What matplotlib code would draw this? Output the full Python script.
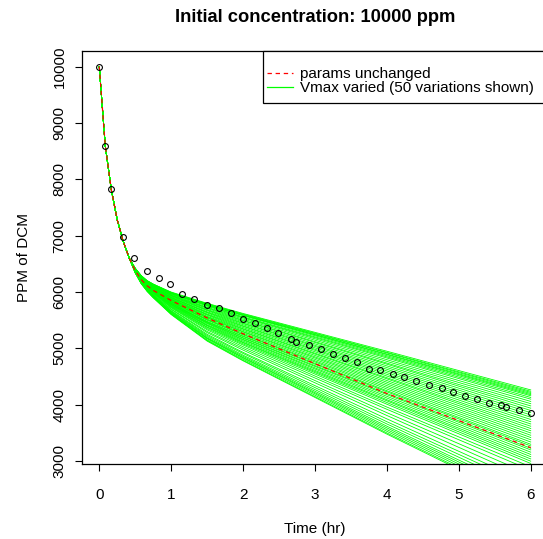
import matplotlib
matplotlib.use('Agg')
import matplotlib.pyplot as plt
from matplotlib.patches import Rectangle
from matplotlib.lines import Line2D

# Data section

# observed concentrations (black circles)
time_obs = [0.0, 0.083, 0.165, 0.327, 0.49, 0.66, 0.83, 0.99, 1.157, 1.32,
            1.5, 1.666, 1.83, 2.0, 2.16, 2.33, 2.49, 2.66, 2.74, 2.91,
            3.09, 3.25, 3.42, 3.58, 3.75, 3.91, 4.08, 4.24, 4.41, 4.58,
            4.76, 4.92, 5.09, 5.25, 5.42, 5.58, 5.66, 5.83, 6.0]
ppm_obs = [10000, 8587, 7820, 6970, 6603, 6373, 6248, 6142, 5965, 5879,
           5775, 5717, 5634, 5527, 5456, 5368, 5279, 5173, 5109, 5067,
           4985, 4896, 4825, 4755, 4630, 4613, 4542, 4489, 4418, 4347,
           4294, 4223, 4152, 4099, 4028, 3992, 3957, 3904, 3851]

# early part of the model curves (all curves overlap here)
time_early = [0.0, 0.083, 0.167, 0.25, 0.333, 0.417]
ppm_early = [10000, 8600, 7820, 7280, 6900, 6600]

# later knots of the model curves
time_late = [0.5, 0.583, 0.667, 0.75, 1.0, 1.5, 2.0, 4.0, 6.0]

# params unchanged (red dashed)
ppm_base = [6380, 6220, 6110, 6030, 5850, 5540, 5260, 4200, 3240]

# Vmax varied, 50 variations (green)
ppm_varied = [
    [6420, 6290, 6200, 6140, 6000, 5800, 5620, 4950, 4264],
    [6420, 6290, 6200, 6140, 5990, 5790, 5610, 4930, 4240],
    [6420, 6290, 6200, 6140, 5990, 5790, 5600, 4920, 4220],
    [6420, 6290, 6190, 6130, 5990, 5780, 5590, 4900, 4200],
    [6420, 6280, 6190, 6130, 5980, 5770, 5590, 4890, 4180],
    [6420, 6280, 6190, 6130, 5980, 5770, 5580, 4870, 4160],
    [6410, 6280, 6190, 6120, 5970, 5760, 5560, 4850, 4130],
    [6410, 6280, 6180, 6120, 5970, 5750, 5550, 4830, 4100],
    [6410, 6280, 6180, 6120, 5960, 5730, 5540, 4800, 4060],
    [6410, 6270, 6180, 6110, 5950, 5720, 5520, 4770, 4020],
    [6410, 6270, 6170, 6110, 5940, 5710, 5500, 4740, 3980],
    [6410, 6270, 6170, 6100, 5940, 5690, 5490, 4720, 3940],
    [6410, 6270, 6170, 6100, 5930, 5680, 5470, 4690, 3900],
    [6400, 6260, 6160, 6090, 5920, 5670, 5450, 4660, 3860],
    [6400, 6260, 6160, 6090, 5910, 5650, 5440, 4630, 3820],
    [6400, 6260, 6150, 6080, 5900, 5640, 5420, 4600, 3780],
    [6400, 6250, 6150, 6080, 5900, 5630, 5400, 4570, 3740],
    [6400, 6250, 6150, 6070, 5890, 5610, 5390, 4540, 3700],
    [6400, 6250, 6140, 6070, 5880, 5600, 5370, 4510, 3660],
    [6390, 6250, 6140, 6060, 5870, 5590, 5350, 4480, 3620],
    [6390, 6240, 6140, 6060, 5870, 5570, 5340, 4460, 3580],
    [6390, 6240, 6130, 6050, 5860, 5560, 5320, 4430, 3540],
    [6390, 6240, 6130, 6050, 5850, 5550, 5300, 4400, 3500],
    [6390, 6230, 6120, 6050, 5840, 5540, 5290, 4370, 3460],
    [6390, 6230, 6120, 6040, 5830, 5520, 5270, 4340, 3420],
    [6380, 6230, 6120, 6040, 5830, 5510, 5250, 4310, 3380],
    [6380, 6230, 6110, 6030, 5820, 5500, 5240, 4280, 3340],
    [6380, 6220, 6110, 6030, 5810, 5480, 5220, 4250, 3300],
    [6380, 6220, 6110, 6020, 5800, 5470, 5210, 4230, 3270],
    [6380, 6220, 6100, 6020, 5800, 5460, 5190, 4200, 3230],
    [6380, 6220, 6100, 6010, 5790, 5450, 5180, 4180, 3200],
    [6380, 6210, 6100, 6010, 5780, 5440, 5160, 4150, 3160],
    [6370, 6210, 6090, 6000, 5780, 5420, 5150, 4120, 3120],
    [6370, 6210, 6090, 6000, 5770, 5410, 5130, 4090, 3080],
    [6370, 6210, 6090, 6000, 5760, 5400, 5110, 4070, 3040],
    [6370, 6200, 6080, 5990, 5750, 5380, 5100, 4040, 3000],
    [6370, 6200, 6080, 5990, 5740, 5370, 5080, 4010, 2960],
    [6370, 6200, 6070, 5980, 5730, 5350, 5060, 3960, 2900],
    [6360, 6190, 6070, 5970, 5720, 5330, 5030, 3920, 2840],
    [6360, 6190, 6060, 5960, 5700, 5300, 5000, 3860, 2760],
    [6360, 6180, 6050, 5950, 5690, 5280, 4970, 3810, 2680],
    [6350, 6180, 6040, 5940, 5670, 5250, 4930, 3750, 2600],
    [6350, 6170, 6040, 5940, 5660, 5230, 4910, 3700, 2540],
    [6350, 6170, 6030, 5930, 5650, 5210, 4880, 3660, 2480],
    [6350, 6160, 6030, 5920, 5640, 5190, 4860, 3620, 2420],
    [6350, 6160, 6020, 5920, 5630, 5180, 4840, 3590, 2380],
    [6340, 6160, 6020, 5910, 5620, 5170, 4830, 3560, 2340],
    [6340, 6150, 6020, 5910, 5610, 5150, 4810, 3530, 2300],
    [6340, 6150, 6010, 5900, 5610, 5140, 4790, 3500, 2260],
    [6340, 6150, 6010, 5900, 5600, 5130, 4780, 3480, 2230],
]

x_ticks = [0, 1, 2, 3, 4, 5, 6]
y_ticks = [3000, 4000, 5000, 6000, 7000, 8000, 9000, 10000]

title_text = 'Initial concentration: 10000 ppm'
legend_labels = ['params unchanged', 'Vmax varied (50 variations shown)']

W, H = 543, 539


def px(x, y):
    # pixel (from top-left) to figure fraction
    return x / W, 1 - y / H
    # End of function.


def main():
    plt.rcParams['font.family'] = ['Liberation Sans', 'DejaVu Sans']

    fig = plt.figure(figsize=(W / 100, H / 100), dpi=100)
    left, top = px(82, 51)
    right, bottom = px(548, 464)
    ax = fig.add_axes([left, bottom, right - left, top - bottom])

    green = '#00FF00'
    red = '#FF0000'

    for row in ppm_varied:
        ax.plot(time_early + time_late, ppm_early + row, c=green, lw=0.6)
    ax.plot(time_early + time_late, ppm_early + ppm_base, c=red, lw=0.9,
            dashes=(3.5, 3))
    ax.plot(time_obs, ppm_obs, ls='none', marker='o', ms=4.2, mfc='none',
            mec='black', mew=0.8)

    ax.set_xlim(-0.24, 6.24)
    ax.set_ylim(2950, 10275)
    ax.set_xticks(x_ticks)
    ax.set_yticks(y_ticks)
    ax.set_yticklabels([str(v) for v in y_ticks], rotation=90, va='center')
    ax.tick_params(axis='both', direction='out', length=5, width=0.8,
                   labelsize=11)
    ax.tick_params(axis='x', pad=12.5)
    ax.tick_params(axis='y', pad=6)
    for s in ax.spines.values():
        s.set_linewidth(0.9)

    # labels
    x, y = px(315, 17)
    fig.text(x, y, title_text, ha='center', va='center', fontsize=13.2,
             fontweight='bold')
    x, y = px(315, 529)
    fig.text(x, y, 'Time (hr)', ha='center', va='center', fontsize=11)
    x, y = px(24, 257)
    fig.text(x, y, 'PPM of DCM', ha='center', va='center', fontsize=11,
             rotation=90)

    # legend box, drawn by hand like the R legend
    x0, y0 = px(263, 103)
    x1, y1 = px(560, 51)
    fig.patches.append(Rectangle((x0, y0), x1 - x0, y1 - y0,
                                 transform=fig.transFigure, fill=True,
                                 facecolor='white', edgecolor='black',
                                 lw=0.9, zorder=5))
    rows = [(72.7, red, (3.5, 3)), (87.3, green, None)]
    for (ry, col, dash), lab in zip(rows, legend_labels):
        xa, ya = px(267, ry)
        xb, _ = px(293, ry)
        ln = Line2D([xa, xb], [ya, ya], transform=fig.transFigure, color=col,
                    lw=0.9, zorder=6)
        if dash:
            ln.set_dashes(dash)
        fig.lines.append(ln)
        tx, ty = px(300, ry + 1)
        fig.text(tx, ty, lab, ha='left', va='center', fontsize=11, zorder=6)

    fig.savefig('out.png', dpi=100)
    plt.close(fig)

    return None
    # End of function.


if __name__ == "__main__":
    main()

# End of file.
